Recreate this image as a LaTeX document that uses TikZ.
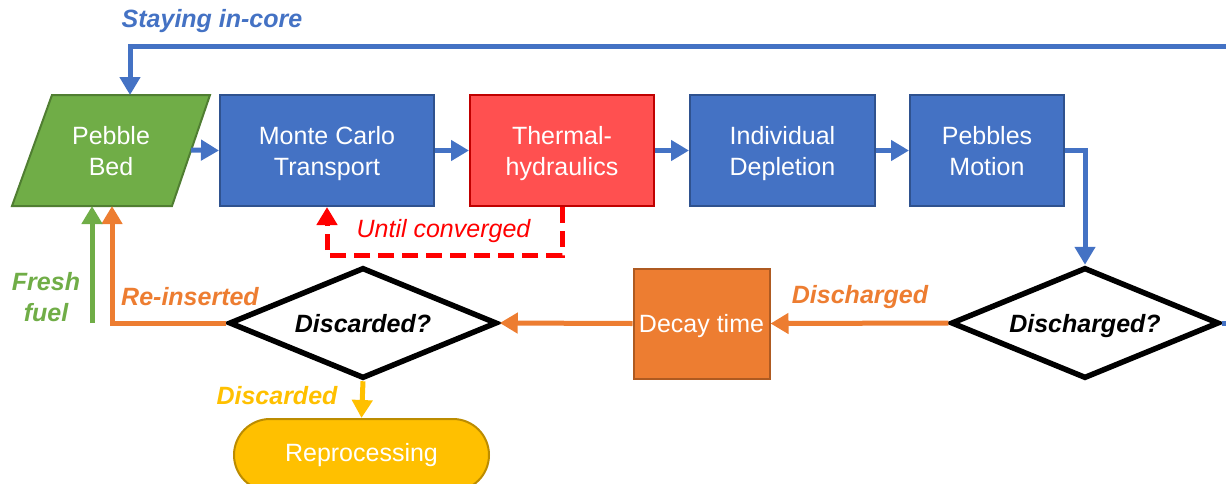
\documentclass[tikz,border=0pt]{standalone}
\usepackage{fontspec}
\setmainfont{Liberation Sans}
\usetikzlibrary{arrows.meta,shapes.geometric,calc}
\definecolor{cblue}{HTML}{4472C4}
\definecolor{cblueD}{HTML}{2F528F}
\definecolor{cgreen}{HTML}{70AD47}
\definecolor{cgreenD}{HTML}{507E32}
\definecolor{cred}{HTML}{FF5050}
\definecolor{credD}{HTML}{C00000}
\definecolor{cdash}{HTML}{FF0000}
\definecolor{corange}{HTML}{ED7D31}
\definecolor{corangeD}{HTML}{AE5A21}
\definecolor{cyellow}{HTML}{FFC000}
\definecolor{cyellowD}{HTML}{BC8C00}
\begin{document}
\begin{tikzpicture}[x=1pt,y=-1pt,
  boxtxt/.style={font=\fontsize{25}{31}\selectfont, text=white, align=center, text depth=0pt},
  procbox/.style={boxtxt, draw=cblueD, fill=cblue, line width=2pt, minimum width=#1, minimum height=111pt, inner sep=0pt},
  decide/.style={diamond, draw=black, fill=white, line width=5.5pt, minimum width=268pt, minimum height=111pt, shape aspect=2.4, inner sep=0pt, text depth=0pt, font=\fontsize{25}{30}\selectfont\bfseries\itshape},
  lbl/.style={font=\fontsize{25}{31}\selectfont\bfseries\itshape, inner sep=0pt, align=center},
  conn/.style={line width=5pt, -{Triangle[width=20pt,length=18pt]}},
  plain/.style={line width=5pt},
]
\useasboundingbox (0,0) rectangle (1226,483);
\clip (0,0) rectangle (1226,483);

% Pebble bed parallelogram
\coordinate (pbTL) at (52,95);
\coordinate (pbTR) at (210,95);
\coordinate (pbBR) at (172,206);
\coordinate (pbBL) at (12,206);
\filldraw[fill=cgreen, draw=cgreenD, line width=2pt] (pbTL) -- (pbTR) -- (pbBR) -- (pbBL) -- cycle;
\node[boxtxt] (pb) at (111,150.5) {Pebble\\Bed};
\coordinate (pbR) at (191,150);
\coordinate (pbTop) at (130,95);
\coordinate (pbBot1) at (92,206);
\coordinate (pbBot2) at (112,206);

% process boxes
\node[procbox=214pt] (mc) at (327,150.5) {Monte Carlo\\Transport};
\node[procbox=184pt, draw=credD, fill=cred] (th) at (562,150.5) {Thermal-\\hydraulics};
\node[procbox=185pt] (id) at (782.5,150.5) {Individual\\Depletion};
\node[procbox=154pt] (pm) at (987,150.5) {Pebbles\\Motion};

% decisions
\node[decide] (dch) at (1085,323) {Discharged?};
\node[decide] (dcd) at (363,323) {Discarded?};

% decay and reprocessing
\node[boxtxt, draw=corangeD, fill=corange, line width=2pt, minimum width=136pt, minimum height=110pt, inner sep=0pt] (dt) at (701.5,323.5) {Decay time};
\node[draw=cyellowD, fill=cyellow, line width=2pt, rounded corners=36pt, minimum width=255pt, minimum height=72pt, inner sep=0pt, anchor=north] (rp) at (361.5,418) {};
\node[boxtxt] (rptxt) at (361.5,452.5) {Reprocessing};

% free ends
\coordinate (topright) at (1240,46);
\coordinate (rightout) at (1240,323);
\coordinate (fresh) at (92,323);

% main flow arrows
\draw[conn, cblue] (pbR) -- (mc.west);
\draw[conn, cblue] (mc.east) -- (th.west);
\draw[conn, cblue] (th.east) -- (id.west);
\draw[conn, cblue] (id.east) -- (pm.west);
\draw[conn, cblue] (pm.east) -| (dch.north);
\draw[plain, cblue] (dch.east) -- (rightout);
\draw[conn, cblue] (topright) -| (pbTop);

% orange path
\draw[conn, corange] (dch.west) -- (dt.east);
\draw[conn, corange] (dt.west) -- (dcd.east);
\draw[conn, corange] (dcd.west) -| (pbBot2);

% fresh fuel
\draw[conn, cgreen] (fresh) -- (pbBot1);

% discarded
\draw[conn, cyellow] (dcd.south) -- (rp.north);

% until converged loop
\draw[line width=5pt, cdash, dash pattern=on 16pt off 8pt, -{Triangle[width=20pt,length=18pt]}] (th.south) -- ++(0,48) -| (mc.south);

% labels
\node[lbl, text=cblue] (lstay) at (212,21) {Staying in-core};
\node[font=\fontsize{25}{31}\selectfont\itshape, inner sep=0pt, text=cdash] (lconv) at (443.5,231) {Until converged};
\node[lbl, text=corange] (ldch) at (860,297) {Discharged};
\node[lbl, text=corange] (lre) at (190,297) {Re-inserted};
\node[lbl, text=cgreen] (lfresh) at (46,297) {Fresh\\fuel};
\node[lbl, text=cyellow] (ldcd) at (277,396) {Discarded};
\end{tikzpicture}
\end{document}
